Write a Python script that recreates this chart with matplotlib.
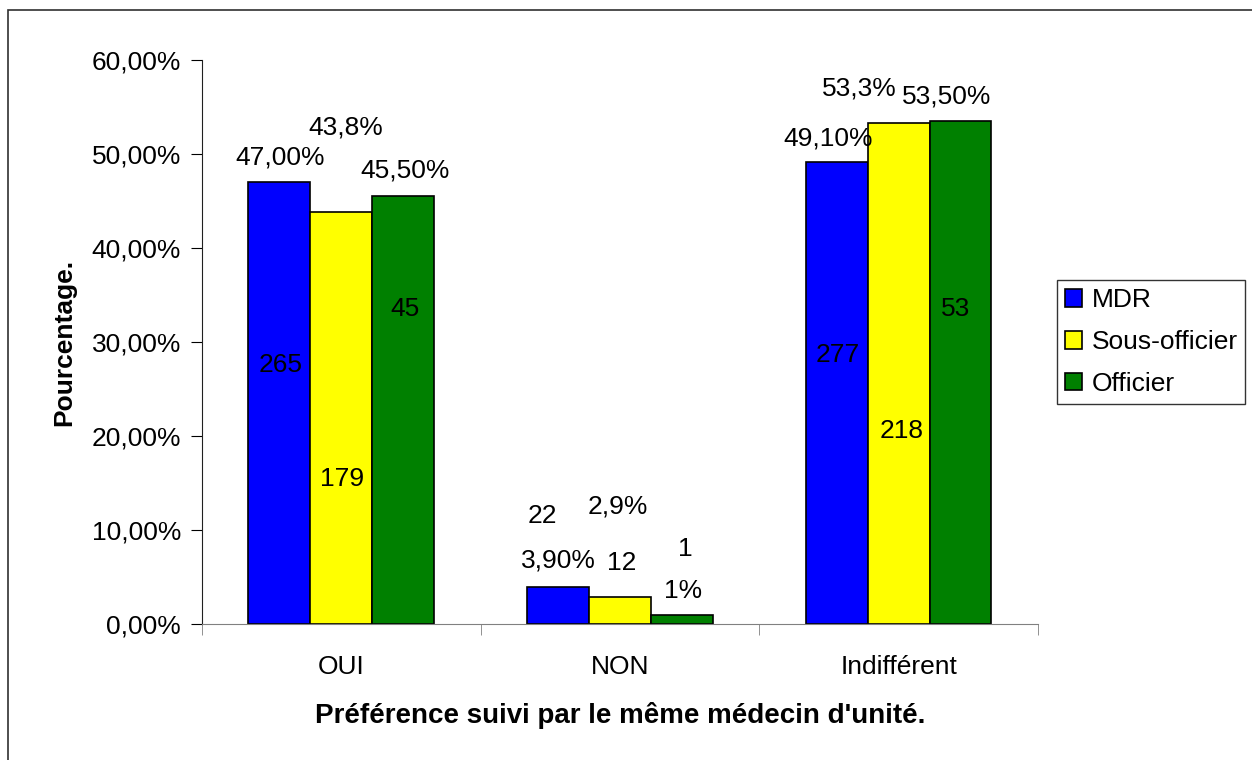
import numpy as np
import matplotlib.pyplot as plt
from matplotlib.patches import Rectangle
from matplotlib.ticker import FuncFormatter

plt.rcParams['font.family'] = ['Liberation Sans', 'DejaVu Sans']

categories = ["OUI", "NON", "Indifférent"]
series = ["MDR", "Sous-officier", "Officier"]
colors = ["#0000FF", "#FFFF00", "#008000"]

mdr = [47.0, 3.9, 49.1]
sous_officier = [43.8, 2.9, 53.3]
officier = [45.5, 1.0, 53.5]

mdr_pct_labels = ["47,00%", "3,90%", "49,10%"]
sous_pct_labels = ["43,8%", "2,9%", "53,3%"]
off_pct_labels = ["45,50%", "1%", "53,50%"]

mdr_counts = [265, 22, 277]
sous_counts = [179, 12, 218]
off_counts = [45, 1, 53]

values = [mdr, sous_officier, officier]
pct_labels = [mdr_pct_labels, sous_pct_labels, off_pct_labels]
counts = [mdr_counts, sous_counts, off_counts]

# label positions (offset from bar centre in x, absolute y) as in the original
pct_pos = [[(0.004, 49.6), (0.0, 6.7), (-0.03, 51.7)],
           [(0.016, 52.8), (-0.008, 12.5), (-0.142, 57.0)],
           [(0.006, 48.3), (0.006, 3.5), (-0.048, 56.1)]]
cnt_pos = [[(0.004, 27.5), (-0.057, 11.5), (0.002, 28.6)],
           [(0.002, 15.4), (0.005, 6.5), (0.012, 20.5)],
           [(0.006, 33.5), (0.013, 8.0), (-0.016, 33.5)]]

fig = plt.figure(figsize=(12.52, 7.6), dpi=100)
ax = fig.add_axes([0.1613, 0.179, 0.6677, 0.742])

x = np.arange(len(categories))
w = 0.222
for i, (name, vals) in enumerate(zip(series, values)):
    xs = x + (i - 1) * w
    ax.bar(xs, vals, width=w, color=colors[i], edgecolor="black",
           linewidth=1.2, label=name)
    for j in range(len(categories)):
        dx, yy = pct_pos[i][j]
        ax.text(xs[j] + dx, yy, pct_labels[i][j], ha="center", va="center",
                fontsize=19)
        dx, yy = cnt_pos[i][j]
        ax.text(xs[j] + dx, yy, str(counts[i][j]), ha="center", va="center",
                fontsize=19)

ax.set_xlim(-0.5, 2.5)
ax.set_ylim(0, 60)
ax.set_yticks(np.arange(0, 61, 10))
ax.yaxis.set_major_formatter(FuncFormatter(lambda v, p: f"{v:.2f}%".replace(".", ",")))
ax.set_xticks(x)
ax.set_xticklabels(categories)
ax.set_xticks([-0.5, 0.5, 1.5, 2.5], minor=True)
ax.tick_params(axis="x", which="major", length=0, labelsize=19, pad=22)
ax.tick_params(axis="x", which="minor", length=8, color="#808080")
ax.tick_params(axis="y", length=8, labelsize=19, pad=7)

for s in ["top", "right"]:
    ax.spines[s].set_visible(False)
ax.spines["bottom"].set_color("#808080")
ax.spines["left"].set_color("#202020")

ax.set_ylabel("Pourcentage.", fontsize=19, fontweight="bold", labelpad=11)
ax.set_xlabel("Préférence suivi par le même médecin d'unité.", fontsize=20,
              fontweight="bold", labelpad=17)

leg = ax.legend(loc="center left", bbox_to_anchor=(1.023, 0.5), fontsize=19,
                frameon=True, fancybox=False, edgecolor="black",
                handlelength=0.65, handleheight=0.65, handletextpad=0.35,
                labelspacing=0.68, borderpad=0.3, borderaxespad=0.0)
leg.get_frame().set_linewidth(1.0)

fig.patches.append(Rectangle((8 / 1252, -0.1), 1.2, (760 - 10) / 760 + 0.1,
                             transform=fig.transFigure, fill=False,
                             edgecolor="#303030", linewidth=1.2))

fig.savefig("out.png", dpi=100)
